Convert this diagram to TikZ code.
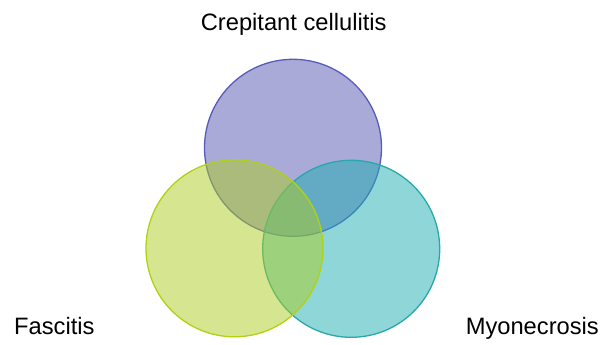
\documentclass[tikz,border=0pt]{standalone}
\usepackage{fontspec}
\setmainfont{Liberation Sans}
\definecolor{topfill}{RGB}{83,85,175}
\definecolor{topline}{RGB}{88,92,184}
\definecolor{leftfill}{RGB}{173,205,33}
\definecolor{leftline}{RGB}{176,210,20}
\definecolor{rightfill}{RGB}{31,173,179}
\definecolor{rightline}{RGB}{40,168,170}
\begin{document}
\begin{tikzpicture}[x=1pt,y=-1pt,
  venn/.style={circle, minimum size=177pt, inner sep=0pt, line width=1.3pt, fill opacity=0.5},
  lbl/.style={font=\fontsize{23.7}{28}\selectfont, text=black, inner sep=0pt}]
\useasboundingbox (0,0) rectangle (605,345);
\node[venn, fill=topfill, draw=topline] (top) at (293,147.8) {};
\node[venn, fill=rightfill, draw=rightline] (right) at (351.2,248.8) {};
\node[venn, fill=leftfill, draw=leftline] (left) at (234.5,248.3) {};
\node[lbl, anchor=base] (tl) at (293.7,31) {Crepitant cellulitis};
\node[lbl, anchor=base west] (ll) at (14,334) {Fascitis};
\node[lbl, anchor=base east] (rl) at (599,334) {Myonecrosis};
\end{tikzpicture}
\end{document}
